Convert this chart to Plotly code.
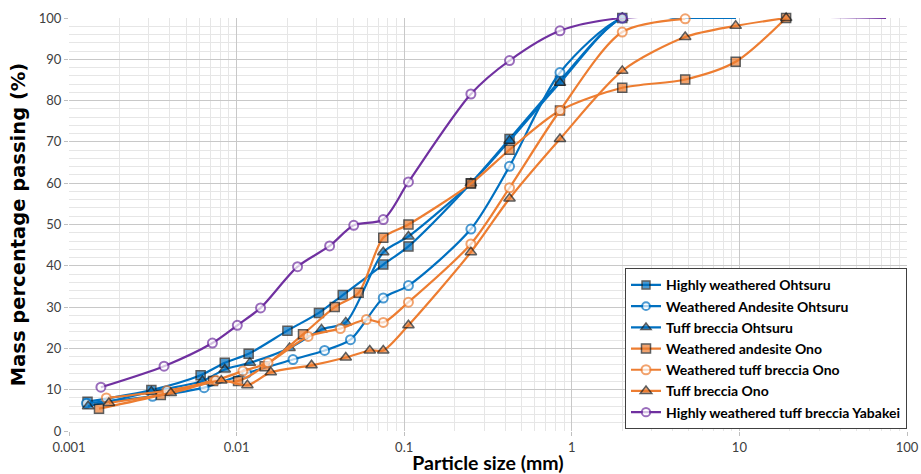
import plotly.graph_objects as go

# ---- data (particle size mm, % passing) ----
hw_ohtsuru_x = [0.00129, 0.0031, 0.0061, 0.0085, 0.0118, 0.0201, 0.031, 0.043, 0.075, 0.106, 0.25, 0.425, 0.85, 2.0, 4.75, 9.5]
hw_ohtsuru_y = [7.1, 9.9, 13.5, 16.5, 18.7, 24.3, 28.6, 32.9, 40.3, 44.7, 60.0, 70.7, 84.8, 100, 100, 100]

wa_ohtsuru_x = [0.00127, 0.00315, 0.0064, 0.0115, 0.0217, 0.0335, 0.0478, 0.075, 0.106, 0.25, 0.425, 0.85, 2.0, 4.75, 9.5]
wa_ohtsuru_y = [6.7, 8.4, 10.5, 14.0, 17.3, 19.5, 22.1, 32.2, 35.2, 48.9, 64.1, 86.8, 100, 100, 100]

tb_ohtsuru_x = [0.0013, 0.0031, 0.00625, 0.0085, 0.012, 0.0207, 0.0321, 0.0448, 0.075, 0.106, 0.25, 0.425, 0.85, 2.0, 4.75, 9.5]
tb_ohtsuru_y = [6.0, 9.5, 12.1, 14.9, 16.5, 20.1, 24.6, 26.3, 43.3, 47.1, 60.0, 70.3, 84.3, 100, 100, 100]

wa_ono_x = [0.00151, 0.00353, 0.00723, 0.0102, 0.0147, 0.0249, 0.0385, 0.0535, 0.075, 0.106, 0.25, 0.425, 0.85, 2.0, 4.75, 9.5, 19.0]
wa_ono_y = [5.4, 8.7, 12.1, 12.1, 15.7, 23.4, 30.0, 33.5, 46.8, 50.0, 59.9, 68.1, 77.6, 83.1, 85.1, 89.4, 100]

wtb_ono_x = [0.00167, 0.00384, 0.0075, 0.0109, 0.0154, 0.0267, 0.0416, 0.0595, 0.075, 0.106, 0.25, 0.425, 0.85, 2.0, 4.75]
wtb_ono_y = [8.0, 9.8, 12.3, 14.5, 16.5, 22.9, 24.8, 27.0, 26.3, 31.2, 45.3, 58.9, 77.6, 96.6, 99.8]

tb_ono_x = [0.00173, 0.00405, 0.00811, 0.0116, 0.016, 0.028, 0.0448, 0.0623, 0.075, 0.106, 0.25, 0.425, 0.85, 2.0, 4.75, 9.5, 19.0]
tb_ono_y = [6.8, 9.2, 12.2, 11.1, 14.2, 15.9, 17.8, 19.5, 19.5, 25.6, 43.3, 56.3, 70.7, 87.2, 95.4, 98.1, 100]

hwtb_yabakei_x = [0.00155, 0.00369, 0.00717, 0.0101, 0.0139, 0.0231, 0.0359, 0.05, 0.075, 0.106, 0.25, 0.425, 0.85, 2.0, 75.0]
hwtb_yabakei_y = [10.6, 15.7, 21.3, 25.6, 29.8, 39.8, 44.8, 49.8, 51.2, 60.3, 81.6, 89.7, 96.9, 100, 100]

x_tickvals = [0.001, 0.01, 0.1, 1, 10, 100]
x_ticktext = ["0.001", "0.01", "0.1", "1", "10", "100"]
y_tickvals = [0, 10, 20, 30, 40, 50, 60, 70, 80, 90, 100]

BLUE = "#0070C0"
ORANGE = "#ED7D31"
PURPLE = "#7030A0"

FONT = "Lato, sans-serif"

series = [
    ("Highly weathered Ohtsuru", hw_ohtsuru_x, hw_ohtsuru_y, BLUE, "square", True, 2),
    ("Weathered Andesite Ohtsuru", wa_ohtsuru_x, wa_ohtsuru_y, BLUE, "circle", False, 2),
    ("Tuff breccia Ohtsuru", tb_ohtsuru_x, tb_ohtsuru_y, BLUE, "triangle-up", True, 2),
    ("Weathered andesite Ono", wa_ono_x, wa_ono_y, ORANGE, "square", True, 0),
    ("Weathered tuff breccia Ono", wtb_ono_x, wtb_ono_y, ORANGE, "circle", False, 0),
    ("Tuff breccia Ono", tb_ono_x, tb_ono_y, ORANGE, "triangle-up", True, 0),
    ("Highly weathered tuff breccia Yabakei", hwtb_yabakei_x, hwtb_yabakei_y, PURPLE, "circle", False, 1),
]

fig = go.Figure()
for name, xs, ys, color, sym, filled, n_hidden in series:
    size = 9 if sym != "triangle-up" else 10
    sizes = [size] * len(xs)
    # trailing points drawn by the line only (no marker)
    for i in range(n_hidden):
        sizes[len(xs) - 1 - i] = 0
    if filled:
        marker = dict(symbol=sym, size=sizes, color=color, line=dict(color="#1a1a1a", width=1.5))
    else:
        marker = dict(symbol=sym, size=sizes, color="white", line=dict(color=color, width=2))
    fig.add_trace(go.Scatter(
        x=xs, y=ys, name="<b>" + name + "</b>", mode="lines+markers",
        line=dict(color=color, width=2.2, shape="spline", smoothing=0.8),
        marker=marker, cliponaxis=False,
    ))

fig.update_layout(
    width=921, height=474,
    margin=dict(l=69, r=14, t=18, b=43, autoexpand=False),
    paper_bgcolor="white", plot_bgcolor="white",
    font=dict(family=FONT, color="#404040", size=12),
    xaxis=dict(
        type="log", range=[-3, 2], automargin=False,
        tickvals=x_tickvals, ticktext=x_ticktext,
        showgrid=True, gridcolor="#c8c8c8", gridwidth=1,
        minor=dict(dtick="D1", showgrid=True, gridcolor="#e6e6e6", gridwidth=1, ticks=""),
        ticks="outside", ticklen=4, tickcolor="#bfbfbf",
        zeroline=False, showline=False,
        tickfont=dict(family=FONT, size=13, color="#404040"),
        title=dict(text="<b>Particle size (mm)</b>", font=dict(family=FONT, size=19.5, color="#000000"), standoff=0),
    ),
    yaxis=dict(
        range=[0, 100], tickvals=y_tickvals, automargin=False,
        showgrid=True, gridcolor="#c8c8c8", gridwidth=1,
        minor=dict(dtick=2, showgrid=True, gridcolor="#e6e6e6", gridwidth=1, ticks=""),
        ticks="outside", ticklen=4, tickcolor="#bfbfbf",
        zeroline=False, showline=False,
        tickfont=dict(family=FONT, size=13, color="#404040"),
        title=dict(text="<b>Mass percentage passing (%)</b>",
                   font=dict(family="'DejaVu Sans', sans-serif", size=19.5, color="#000000"), standoff=7),
    ),
    legend=dict(
        x=1.0, xanchor="right", y=0.004, yanchor="bottom",
        bgcolor="white", bordercolor="#404040", borderwidth=1,
        font=dict(family=FONT, size=14, color="#000000"),
        itemwidth=30, tracegroupgap=0, traceorder="normal",
    ),
    showlegend=True,
)

fig.write_html(
    "out.html",
    config={"displayModeBar": False},
    post_script="document.body.style.margin='0';document.body.style.overflow='hidden';",
)
